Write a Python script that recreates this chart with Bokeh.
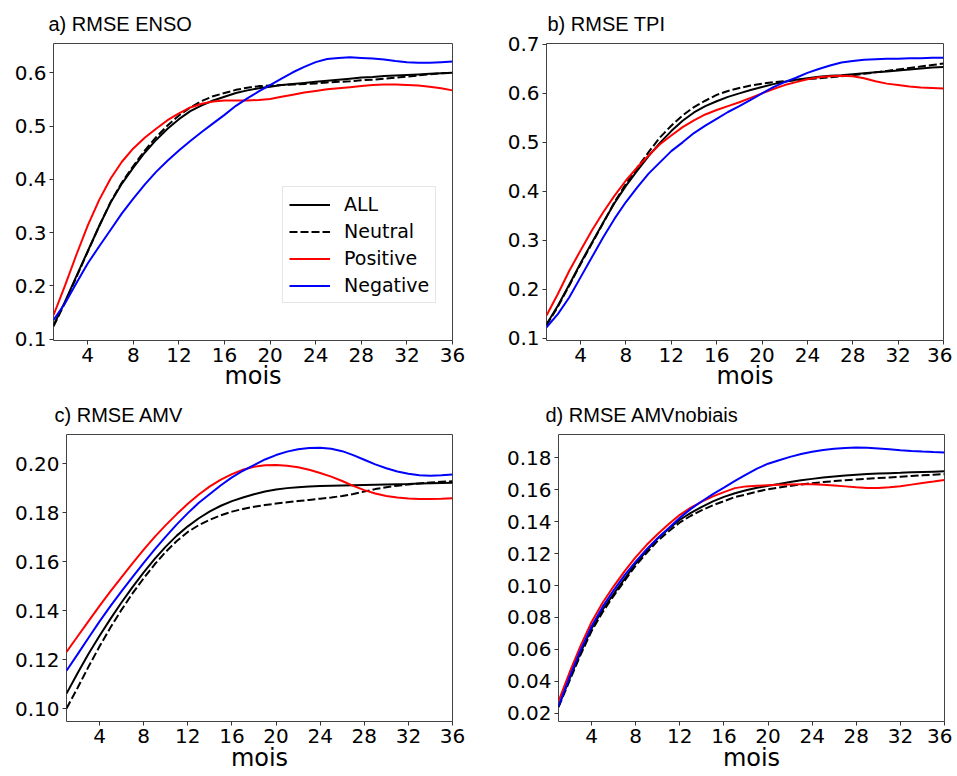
from bokeh.plotting import figure
from bokeh.layouts import column, row
from bokeh.models import Range1d, FixedTicker, Legend, LegendItem, Title
from bokeh.embed import file_html
from bokeh.resources import INLINE

months = list(range(1, 37))
x_ticks = [4, 8, 12, 16, 20, 24, 28, 32, 36]
series_names = ["ALL", "Neutral", "Positive", "Negative"]
x_label = "mois"

# a) RMSE ENSO
enso_all = [0.126, 0.170, 0.218, 0.265, 0.312, 0.356, 0.392, 0.422, 0.450, 0.474, 0.495, 0.513,
            0.528, 0.539, 0.548, 0.555, 0.562, 0.567, 0.571, 0.574, 0.577, 0.579, 0.581, 0.583,
            0.585, 0.587, 0.589, 0.591, 0.592, 0.594, 0.595, 0.596, 0.597, 0.598, 0.599, 0.600]
enso_neu = [0.124, 0.168, 0.216, 0.264, 0.312, 0.357, 0.394, 0.425, 0.454, 0.479, 0.501, 0.520,
            0.535, 0.547, 0.556, 0.562, 0.568, 0.572, 0.575, 0.576, 0.577, 0.578, 0.579, 0.580,
            0.582, 0.583, 0.584, 0.586, 0.587, 0.589, 0.591, 0.593, 0.595, 0.597, 0.599, 0.600]
enso_pos = [0.145, 0.200, 0.258, 0.313, 0.361, 0.401, 0.433, 0.458, 0.478, 0.495, 0.511, 0.524,
            0.535, 0.542, 0.546, 0.548, 0.548, 0.548, 0.549, 0.551, 0.555, 0.559, 0.563, 0.566,
            0.569, 0.571, 0.573, 0.575, 0.577, 0.578, 0.578, 0.577, 0.576, 0.574, 0.571, 0.567]
enso_neg = [0.136, 0.167, 0.205, 0.242, 0.274, 0.305, 0.336, 0.364, 0.390, 0.414, 0.435, 0.454,
            0.472, 0.489, 0.505, 0.521, 0.538, 0.552, 0.565, 0.577, 0.589, 0.601, 0.611, 0.620,
            0.626, 0.628, 0.629, 0.628, 0.627, 0.625, 0.622, 0.620, 0.619, 0.619, 0.620, 0.621]
enso_yticks = [0.1, 0.2, 0.3, 0.4, 0.5, 0.6]
enso_ylabels = ["0.1", "0.2", "0.3", "0.4", "0.5", "0.6"]

# b) RMSE TPI
tpi_all = [0.128, 0.166, 0.209, 0.253, 0.295, 0.336, 0.376, 0.411, 0.442, 0.472, 0.499, 0.523,
           0.544, 0.561, 0.574, 0.584, 0.593, 0.600, 0.607, 0.613, 0.619, 0.624, 0.628, 0.631,
           0.634, 0.636, 0.637, 0.639, 0.641, 0.643, 0.645, 0.647, 0.649, 0.651, 0.653, 0.654]
tpi_neu = [0.126, 0.164, 0.207, 0.251, 0.293, 0.335, 0.378, 0.415, 0.448, 0.480, 0.510, 0.534,
           0.555, 0.572, 0.585, 0.597, 0.605, 0.611, 0.616, 0.620, 0.623, 0.625, 0.627, 0.629,
           0.631, 0.633, 0.635, 0.637, 0.640, 0.643, 0.646, 0.649, 0.652, 0.655, 0.658, 0.661]
tpi_pos = [0.146, 0.190, 0.237, 0.279, 0.320, 0.357, 0.391, 0.422, 0.449, 0.473, 0.496, 0.514,
           0.531, 0.545, 0.557, 0.566, 0.574, 0.582, 0.591, 0.600, 0.609, 0.617, 0.623, 0.629,
           0.633, 0.635, 0.636, 0.635, 0.631, 0.625, 0.620, 0.617, 0.614, 0.612, 0.611, 0.610]
tpi_neg = [0.122, 0.149, 0.183, 0.224, 0.265, 0.306, 0.344, 0.378, 0.408, 0.436, 0.459, 0.482,
           0.500, 0.519, 0.534, 0.548, 0.562, 0.574, 0.587, 0.600, 0.613, 0.623, 0.632, 0.642,
           0.650, 0.657, 0.663, 0.666, 0.669, 0.670, 0.671, 0.671, 0.672, 0.672, 0.673, 0.673]
tpi_yticks = [0.1, 0.2, 0.3, 0.4, 0.5, 0.6, 0.7]
tpi_ylabels = ["0.1", "0.2", "0.3", "0.4", "0.5", "0.6", "0.7"]

# c) RMSE AMV
amv_all = [0.1062, 0.1145, 0.1225, 0.1298, 0.1368, 0.1435, 0.1498, 0.1557, 0.1612, 0.1662, 0.1707, 0.1745,
           0.1778, 0.1806, 0.1829, 0.1848, 0.1863, 0.1876, 0.1887, 0.1895, 0.1901, 0.1905, 0.1908, 0.1910,
           0.1911, 0.1912, 0.1913, 0.1914, 0.1915, 0.1916, 0.1917, 0.1918, 0.1920, 0.1921, 0.1922, 0.1923]
amv_neu = [0.1001, 0.1085, 0.1172, 0.1255, 0.1333, 0.1405, 0.1472, 0.1533, 0.1590, 0.1641, 0.1685, 0.1722,
           0.1750, 0.1772, 0.1790, 0.1805, 0.1816, 0.1825, 0.1832, 0.1838, 0.1843, 0.1848, 0.1853, 0.1858,
           0.1863, 0.1869, 0.1877, 0.1887, 0.1897, 0.1905, 0.1911, 0.1916, 0.1920, 0.1924, 0.1927, 0.1929]
amv_pos = [0.1232, 0.1295, 0.1358, 0.1420, 0.1480, 0.1538, 0.1595, 0.1650, 0.1702, 0.1750, 0.1795, 0.1837,
           0.1875, 0.1908, 0.1936, 0.1958, 0.1976, 0.1988, 0.1994, 0.1995, 0.1992, 0.1986, 0.1976, 0.1963,
           0.1948, 0.1930, 0.1910, 0.1893, 0.1879, 0.1869, 0.1863, 0.1859, 0.1857, 0.1857, 0.1858, 0.1860]
amv_neg = [0.1155, 0.1222, 0.1290, 0.1357, 0.1420, 0.1480, 0.1539, 0.1596, 0.1651, 0.1703, 0.1753, 0.1799,
           0.1841, 0.1877, 0.1913, 0.1945, 0.1972, 0.1995, 0.2018, 0.2036, 0.2050, 0.2060, 0.2065, 0.2066,
           0.2062, 0.2052, 0.2036, 0.2017, 0.1998, 0.1982, 0.1969, 0.1960, 0.1954, 0.1952, 0.1954, 0.1957]
amv_yticks = [0.10, 0.12, 0.14, 0.16, 0.18, 0.20]
amv_ylabels = ["0.10", "0.12", "0.14", "0.16", "0.18", "0.20"]

# d) RMSE AMVnobiais
amvnb_all = [0.0242, 0.0415, 0.0580, 0.0730, 0.0848, 0.0948, 0.1043, 0.1138, 0.1218, 0.1295, 0.1355, 0.1412,
             0.1455, 0.1493, 0.1527, 0.1555, 0.1578, 0.1597, 0.1612, 0.1625, 0.1636, 0.1648, 0.1659, 0.1668,
             0.1676, 0.1683, 0.1689, 0.1694, 0.1698, 0.1701, 0.1704, 0.1706, 0.1709, 0.1711, 0.1713, 0.1715]
amvnb_neu = [0.0238, 0.0403, 0.0565, 0.0715, 0.0833, 0.0935, 0.1030, 0.1125, 0.1205, 0.1280, 0.1340, 0.1395,
             0.1437, 0.1472, 0.1503, 0.1528, 0.1555, 0.1570, 0.1588, 0.1603, 0.1614, 0.1624, 0.1633, 0.1641,
             0.1648, 0.1654, 0.1659, 0.1664, 0.1669, 0.1673, 0.1677, 0.1681, 0.1686, 0.1690, 0.1694, 0.1698]
amvnb_pos = [0.0275, 0.0455, 0.0622, 0.0772, 0.0892, 0.0995, 0.1090, 0.1178, 0.1255, 0.1323, 0.1385, 0.1443,
             0.1488, 0.1525, 0.1558, 0.1585, 0.1610, 0.1621, 0.1625, 0.1628, 0.1631, 0.1633, 0.1635, 0.1634,
             0.1631, 0.1627, 0.1621, 0.1615, 0.1611, 0.1611, 0.1615, 0.1622, 0.1632, 0.1642, 0.1651, 0.1661]
amvnb_neg = [0.0242, 0.0428, 0.0595, 0.0745, 0.0866, 0.0970, 0.1065, 0.1150, 0.1228, 0.1298, 0.1360, 0.1425,
             0.1480, 0.1528, 0.1572, 0.1613, 0.1655, 0.1695, 0.1732, 0.1763, 0.1785, 0.1806, 0.1824, 0.1838,
             0.1849, 0.1857, 0.1862, 0.1864, 0.1863, 0.1859, 0.1854, 0.1848, 0.1843, 0.1839, 0.1836, 0.1834]
amvnb_yticks = [0.02, 0.04, 0.06, 0.08, 0.10, 0.12, 0.14, 0.16, 0.18]
amvnb_ylabels = ["0.02", "0.04", "0.06", "0.08", "0.10", "0.12", "0.14", "0.16", "0.18"]

styles = {
    "ALL": dict(color="#000000", dash="solid"),
    "Neutral": dict(color="#000000", dash="8 3"),
    "Positive": dict(color="#ff0000", dash="solid"),
    "Negative": dict(color="#0000ff", dash="solid"),
}

TICK_FONT = "DejaVu Sans"


def make_panel(title, values, yr, yticks, ylabels, width, height, borders, title_offset,
               title_standoff, label_standoff, legend=False):
    p = figure(width=width, height=height, output_backend="svg", toolbar_location=None,
               x_range=Range1d(1, 36), y_range=Range1d(*yr))
    p.min_border_left, p.min_border_right, p.min_border_top, p.min_border_bottom = borders
    p.title = Title(text=title, text_font="Liberation Sans", text_font_size="20px",
                    text_font_style="normal", text_color="#000000", align="left",
                    offset=title_offset, standoff=title_standoff)
    p.xgrid.visible = False
    p.ygrid.visible = False
    p.outline_line_color = "#444444"
    p.outline_line_width = 1
    p.background_fill_color = "white"
    p.border_fill_color = "white"
    for ax in (p.xaxis[0], p.yaxis[0]):
        ax.axis_line_color = None
        ax.major_tick_line_color = "#333333"
        ax.major_tick_out = 4
        ax.major_tick_in = 0
        ax.minor_tick_line_color = None
        ax.major_label_text_font = TICK_FONT
        ax.major_label_text_font_size = "20px"
        ax.major_label_text_color = "#000000"
        ax.major_label_standoff = 3
    p.xaxis[0].ticker = FixedTicker(ticks=x_ticks)
    p.xaxis[0].major_label_overrides = {t: str(t) for t in x_ticks}
    p.yaxis[0].ticker = FixedTicker(ticks=yticks)
    p.yaxis[0].major_label_overrides = {t: l for t, l in zip(yticks, ylabels)}
    p.xaxis[0].axis_label = x_label
    p.xaxis[0].axis_label_text_font = TICK_FONT
    p.xaxis[0].axis_label_text_font_size = "24px"
    p.xaxis[0].axis_label_text_font_style = "normal"
    p.xaxis[0].axis_label_text_color = "#000000"
    p.xaxis[0].axis_label_standoff = label_standoff
    items = []
    for name, vals in zip(series_names, values):
        st = styles[name]
        r = p.line(months, vals, line_color=st["color"], line_width=2, line_dash=st["dash"])
        items.append(LegendItem(label=name, renderers=[r]))
    if legend:
        lg = Legend(items=items, location=(229, 37), orientation="vertical",
                    label_text_font=TICK_FONT, label_text_font_size="19px",
                    label_text_color="#000000",
                    glyph_width=41, glyph_height=21, label_height=21, label_standoff=14,
                    spacing=5, padding=6, margin=0,
                    border_line_color="#cccccc", border_line_width=1,
                    background_fill_color="white", background_fill_alpha=0.8)
        p.add_layout(lg, "center")
    return p


pa = make_panel("a) RMSE ENSO", [enso_all, enso_neu, enso_pos, enso_neg], (0.0975, 0.655),
                enso_yticks, enso_ylabels, 480, 393, (53, 28, 43, 53), -5, 17, -3, legend=True)
pb = make_panel("b) RMSE TPI", [tpi_all, tpi_neu, tpi_pos, tpi_neg], (0.095, 0.702),
                tpi_yticks, tpi_ylabels, 472, 393, (66, 9, 43, 53), 1, 17, -3)
pc = make_panel("c) RMSE AMV", [amv_all, amv_neu, amv_pos, amv_neg], (0.0948, 0.212),
                amv_yticks, amv_ylabels, 480, 383, (66, 28, 40, 55), -12, 17, -2)
pd = make_panel("d) RMSE AMVnobiais", [amvnb_all, amvnb_neu, amvnb_pos, amvnb_neg], (0.0148, 0.1946),
                amvnb_yticks, amvnb_ylabels, 472, 383, (78, 8, 40, 55), -13, 17, -2)

layout = column(row(pa, pb), row(pc, pd))
open("out.html", "w").write(file_html(layout, INLINE))
